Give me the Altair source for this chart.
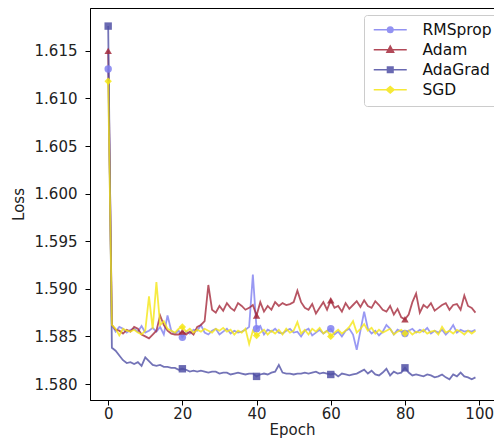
import altair as alt
import pandas as pd

names = ["RMSprop", "Adam", "AdaGrad", "SGD"]
colors = ["#8080f0", "#a52a3c", "#5050a5", "#f5e614"]
shapes = ["circle", "triangle-up", "square", "diamond"]

rmsprop = [1.6131, 1.5862, 1.5855, 1.5860, 1.5858, 1.5854, 1.5857, 1.5858, 1.5855, 1.5861,
           1.5854, 1.5856, 1.5859, 1.5855, 1.5860, 1.5852, 1.5872, 1.5856, 1.5853, 1.5856,
           1.5849, 1.5855, 1.5853, 1.5857, 1.5856, 1.5862, 1.5854, 1.5852, 1.5856, 1.5858,
           1.5852, 1.5855, 1.5858, 1.5853, 1.5856, 1.5854, 1.5855, 1.5857, 1.5860, 1.5915,
           1.5858, 1.5861, 1.5852, 1.5857, 1.5855, 1.5858, 1.5854, 1.5853, 1.5856, 1.5858,
           1.5854, 1.5855, 1.5850, 1.5856, 1.5858, 1.5851, 1.5854, 1.5857, 1.5853, 1.5856,
           1.5858, 1.5852, 1.5855, 1.5850, 1.5856, 1.5858, 1.5852, 1.5836, 1.5856, 1.5876,
           1.5858, 1.5853, 1.5856, 1.5851, 1.5855, 1.5862, 1.5858, 1.5852, 1.5857, 1.5855,
           1.5853, 1.5856, 1.5858, 1.5854, 1.5857, 1.5855, 1.5859, 1.5853, 1.5856, 1.5854,
           1.5857, 1.5852, 1.5856, 1.5862, 1.5854, 1.5857, 1.5855, 1.5856, 1.5855, 1.5857]

adam = [1.6150, 1.5862, 1.5857, 1.5856, 1.5853, 1.5857, 1.5855, 1.5860, 1.5858, 1.5852,
        1.5850, 1.5848, 1.5852, 1.5856, 1.5872, 1.5862, 1.5856, 1.5853, 1.5852, 1.5852,
        1.5855, 1.5852, 1.5855, 1.5852, 1.5860, 1.5862, 1.5866, 1.5904, 1.5878, 1.5875,
        1.5882, 1.5877, 1.5885, 1.5880, 1.5877, 1.5885, 1.5882, 1.5878, 1.5880, 1.5883,
        1.5872, 1.5886, 1.5876, 1.5882, 1.5878, 1.5886, 1.5882, 1.5885, 1.5883, 1.5884,
        1.5886, 1.5898, 1.5886, 1.5880, 1.5878, 1.5884, 1.5874, 1.5880, 1.5886, 1.5878,
        1.5888, 1.5880, 1.5882, 1.5876, 1.5885, 1.5879, 1.5883, 1.5887, 1.5881, 1.5888,
        1.5882, 1.5880, 1.5887, 1.5883, 1.5878, 1.5876, 1.5882, 1.5873, 1.5879, 1.5870,
        1.5868, 1.5873, 1.5886, 1.5895, 1.5875, 1.5883, 1.5880, 1.5885, 1.5877, 1.5880,
        1.5883, 1.5885, 1.5878, 1.5883, 1.5884, 1.5878, 1.5893, 1.5882, 1.5880, 1.5875]

adagrad = [1.6176, 1.5838, 1.5835, 1.5830, 1.5825, 1.5822, 1.5823, 1.5821, 1.5823, 1.5819,
           1.5828, 1.5824, 1.5820, 1.5819, 1.5820, 1.5818, 1.5818, 1.5817, 1.5817, 1.5815,
           1.5816, 1.5815, 1.5813, 1.5814, 1.5813, 1.5814, 1.5813, 1.5812, 1.5813, 1.5813,
           1.5811, 1.5812, 1.5812, 1.5810, 1.5811, 1.5812, 1.5811, 1.5810, 1.5811, 1.5811,
           1.5808, 1.5810, 1.5811, 1.5810, 1.5812, 1.5813, 1.5820, 1.5812, 1.5811, 1.5811,
           1.5810, 1.5811, 1.5811, 1.5812, 1.5811, 1.5812, 1.5813, 1.5811, 1.5812, 1.5811,
           1.5810, 1.5811, 1.5808, 1.5811, 1.5810, 1.5809, 1.5810, 1.5811, 1.5813, 1.5815,
           1.5811, 1.5814, 1.5810, 1.5809, 1.5812, 1.5816, 1.5809, 1.5813, 1.5811, 1.5812,
           1.5817, 1.5812, 1.5809, 1.5810, 1.5809, 1.5808, 1.5810, 1.5809, 1.5807, 1.5808,
           1.5810, 1.5807, 1.5805, 1.5810, 1.5808, 1.5812, 1.5808, 1.5807, 1.5805, 1.5807]

sgd = [1.6118, 1.5862, 1.5858, 1.5851, 1.5858, 1.5856, 1.5855, 1.5857, 1.5854, 1.5852,
       1.5856, 1.5892, 1.5858, 1.5907, 1.5862, 1.5866, 1.5858, 1.5856, 1.5854, 1.5858,
       1.5860, 1.5855, 1.5858, 1.5854, 1.5857, 1.5855, 1.5858, 1.5856, 1.5854, 1.5858,
       1.5856, 1.5859, 1.5855, 1.5857, 1.5852, 1.5856, 1.5854, 1.5858, 1.5842, 1.5856,
       1.5851, 1.5854, 1.5857, 1.5852, 1.5856, 1.5853, 1.5857, 1.5852, 1.5858, 1.5854,
       1.5856, 1.5865, 1.5853, 1.5857, 1.5852, 1.5858, 1.5855, 1.5859, 1.5853, 1.5856,
       1.5850, 1.5854, 1.5857, 1.5853, 1.5856, 1.5860, 1.5866, 1.5854, 1.5858, 1.5863,
       1.5856, 1.5859, 1.5853, 1.5857, 1.5854, 1.5856, 1.5858, 1.5852, 1.5855, 1.5857,
       1.5853, 1.5856, 1.5852, 1.5855, 1.5854, 1.5857, 1.5853, 1.5855, 1.5856, 1.5852,
       1.5860, 1.5854, 1.5856, 1.5853, 1.5857, 1.5855, 1.5852, 1.5856, 1.5853, 1.5856]

x_ticks = [0, 20, 40, 60, 80, 100]
y_ticks = [1.580, 1.585, 1.590, 1.595, 1.600, 1.605, 1.610, 1.615]

series = [rmsprop, adam, adagrad, sgd]
rows = []
for k, (name, vals) in enumerate(zip(names, series)):
    for i, v in enumerate(vals):
        rows.append({"epoch": i, "loss": v, "optimizer": name, "order": k})
df = pd.DataFrame(rows)

# legend symbols: a short line with the marker in the middle
legend_paths = [
    "M-1,0L5.6,0M2.85,0A0.55,0.55 0 1,1 1.75,0A0.55,0.55 0 1,1 2.85,0Z",
    "M-1,0L5.6,0M2.3,-0.7L2.95,0.5L1.65,0.5Z",
    "M-1,0L5.6,0M1.75,-0.55L2.85,-0.55L2.85,0.55L1.75,0.55Z",
    "M-1,0L5.6,0M2.3,-0.65L3.05,0L2.3,0.65L1.55,0Z",
]

x_enc = alt.X(
    "epoch:Q",
    scale=alt.Scale(domain=[-4.9, 104.0], nice=False, zero=False),
    axis=alt.Axis(values=x_ticks, title="Epoch", format="d", titlePadding=1, labelPadding=1),
)
y_enc = alt.Y(
    "loss:Q",
    scale=alt.Scale(domain=[1.57832, 1.6195], nice=False, zero=False),
    axis=alt.Axis(values=y_ticks, title="Loss", format=".3f", labelPadding=8, titlePadding=8),
)

# plot colour scale (alphabetical domain so that it is not merged with the legend)
pairs = sorted(zip(names, colors))
plot_color_scale = alt.Scale(domain=[p[0] for p in pairs], range=[p[1] for p in pairs])

lines = alt.Chart(df).mark_line(strokeWidth=1.8, opacity=0.8).encode(
    x=x_enc,
    y=y_enc,
    color=alt.Color("optimizer:N", scale=plot_color_scale, legend=None),
    order="order:Q",
)

point_layers = []
for name, shp in zip(names, shapes):
    point_layers.append(
        alt.Chart(df)
        .transform_filter(f"datum.epoch % 20 == 0 && datum.optimizer === '{name}'")
        .mark_point(filled=True, size=55, opacity=0.85, shape=shp)
        .encode(
            x=x_enc,
            y=y_enc,
            color=alt.Color("optimizer:N", scale=plot_color_scale, legend=None),
        )
    )

legend_def = alt.Legend(
    title=None,
    orient="none",
    legendX=274,
    legendY=7,
    fillColor="white",
    strokeColor="#cccccc",
    cornerRadius=3,
    padding=7,
    labelFontSize=15.5,
    labelFont="DejaVu Sans",
    labelColor="#111111",
    symbolSize=100,
    symbolStrokeWidth=1.6,
    symbolOpacity=0.85,
    labelOffset=36,
    rowPadding=3,
)

legend_layer = alt.Chart(df).transform_filter("datum.epoch == 0").mark_point(
    filled=True, size=100, opacity=0
).encode(
    x=x_enc,
    y=y_enc,
    fill=alt.Fill("optimizer:N", scale=alt.Scale(domain=names, range=colors), legend=legend_def),
    stroke=alt.Stroke("optimizer:N", scale=alt.Scale(domain=names, range=colors), legend=legend_def),
    shape=alt.Shape("optimizer:N", scale=alt.Scale(domain=names, range=legend_paths), legend=legend_def),
)

chart = alt.layer(lines, *point_layers, legend_layer).properties(
    width=404,
    height=392,
    autosize=alt.AutoSizeParams(type="none"),
    padding={"left": 82, "top": 0, "right": 0, "bottom": 39},
).configure_view(
    stroke="black", strokeWidth=1
).configure_axis(
    grid=False,
    domainColor="black",
    tickColor="black",
    tickSize=5,
    labelFontSize=15,
    titleFontSize=15,
    labelFont="DejaVu Sans",
    titleFont="DejaVu Sans",
    titleFontWeight="normal",
    labelColor="#222222",
    titleColor="#222222",
)

chart.save("out.html", embed_options={"renderer": "svg", "actions": False})
